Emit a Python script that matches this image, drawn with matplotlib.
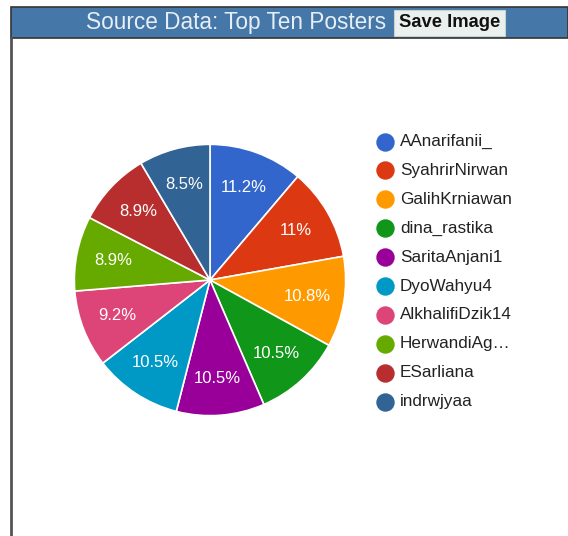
import matplotlib
matplotlib.use("Agg")
import matplotlib.pyplot as plt
from matplotlib.patches import Rectangle

plt.rcParams['font.family'] = ['Liberation Sans', 'DejaVu Sans']

posters = ['AAnarifanii_', 'SyahrirNirwan', 'GalihKrniawan', 'dina_rastika',
           'SaritaAnjani1', 'DyoWahyu4', 'AlkhalifiDzik14', 'HerwandiAg…',
           'ESarliana', 'indrwjyaa']
shares = [11.2, 11.0, 10.8, 10.5, 10.5, 10.5, 9.2, 8.9, 8.9, 8.5]
colors = ['#3366cc', '#dc3912', '#ff9900', '#109618', '#990099',
          '#0099c6', '#dd4477', '#66aa00', '#b82e2e', '#316395']

W, H = 568, 536
fig = plt.figure(figsize=(W / 100, H / 100), dpi=100)

# header bar, drawn in pixel coords (top-left origin)
bg = fig.add_axes([0, 0, 1, 1])
bg.set_xlim(0, W)
bg.set_ylim(H, 0)
bg.axis('off')
bg.add_patch(Rectangle((11, 7), W - 11, 31, facecolor='#4577a8',
                       edgecolor='#333333', lw=1.2))
bg.plot([11, 11], [38, H], color='#555555', lw=2)
bg.text(236, 22, 'Source Data: Top Ten Posters', color='#e6eef6',
        fontsize=16.3, ha='center', va='center')
bg.add_patch(Rectangle((394, 9.5), 111, 26, facecolor='#eaf0ee',
                       edgecolor='#c8d0d0', lw=0.8))
bg.text(449.5, 22.5, 'Save Image', color='#111111', fontsize=13.2,
        fontweight='bold', ha='center', va='center')

# pie
cx, cy, r = 210, 280, 137
ax = fig.add_axes([(cx - r) / W, (H - cy - r) / H, 2 * r / W, 2 * r / H])
wedges, _, autotexts = ax.pie(
    shares, colors=colors, startangle=90, counterclock=False,
    autopct=lambda p: f'{p:g}%', pctdistance=0.73,
    wedgeprops=dict(edgecolor='white', linewidth=1.2),
    textprops=dict(color='white', fontsize=12))
for t, v in zip(autotexts, shares):
    t.set_text(f'{v:g}%')
ax.set_xlim(-1.01, 1.01)
ax.set_ylim(-1.01, 1.01)
ax.set_aspect('equal')

# legend
for i, (name, c) in enumerate(zip(posters, colors)):
    y = 141.5 + i * 28.9
    bg.scatter([385], [y], s=150, color=c, zorder=3)
    bg.text(400, y, name, color='#222222', fontsize=12.3, va='center')

fig.savefig('out.png', dpi=100)
